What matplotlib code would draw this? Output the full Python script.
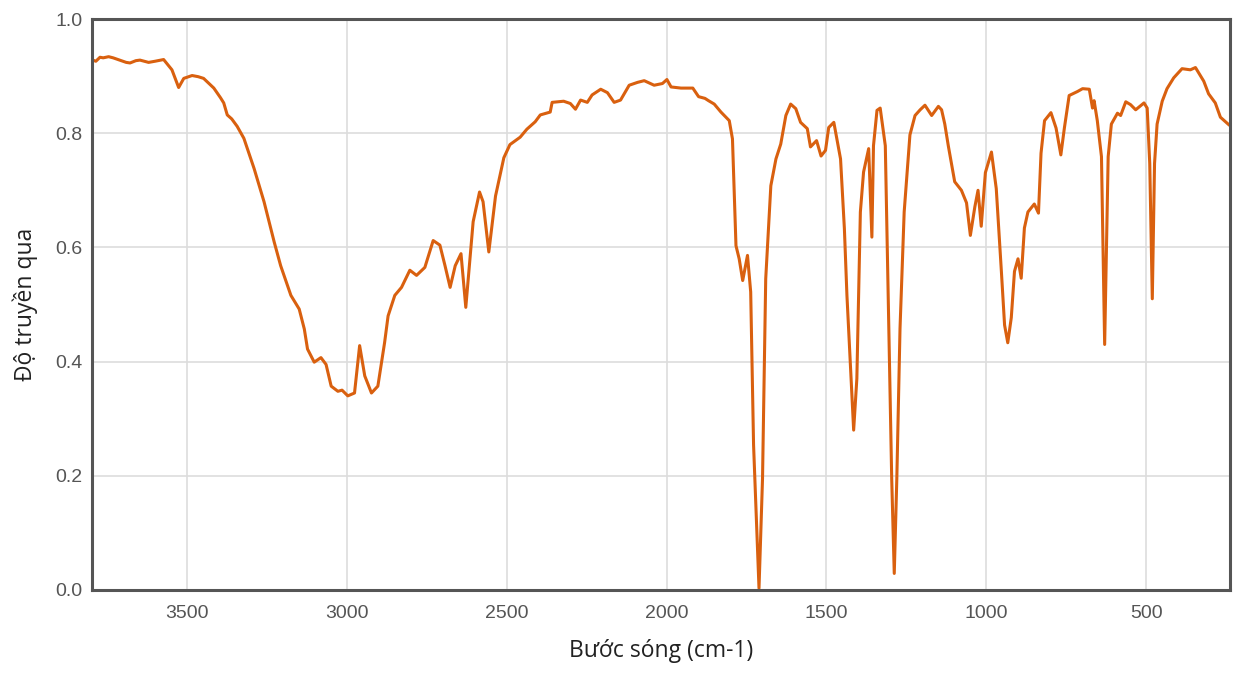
import numpy as np
import matplotlib.pyplot as plt

# Phổ IR: số sóng (cm-1) và độ truyền qua
wavenumber = [
    3799, 3785, 3772, 3762, 3745, 3731, 3710, 3690, 3678, 3660,
    3647, 3620, 3600, 3573, 3560, 3547, 3526, 3510, 3484, 3465,
    3448, 3416, 3395, 3385, 3374, 3360, 3343, 3322, 3290, 3259,
    3227, 3207, 3175, 3149, 3133, 3123, 3102, 3081, 3065, 3049,
    3028, 3015, 2997, 2976, 2960, 2944, 2923, 2903, 2882, 2871,
    2850, 2829, 2803, 2782, 2756, 2730, 2709, 2693, 2677, 2661,
    2643, 2628, 2605, 2585, 2574, 2556, 2535, 2509, 2490, 2458,
    2437, 2411, 2395, 2364, 2358, 2322, 2301, 2285, 2269, 2248,
    2233, 2206, 2185, 2164, 2144, 2117, 2091, 2070, 2039, 2013,
    1999, 1986, 1955, 1918, 1900, 1880, 1869, 1851, 1830, 1804,
    1794, 1783, 1773, 1762, 1747, 1737, 1728, 1711, 1700, 1690,
    1674, 1658, 1643, 1627, 1612, 1596, 1581, 1560, 1550, 1531,
    1517, 1503, 1493, 1477, 1456, 1444, 1436, 1415, 1405, 1394,
    1384, 1368, 1358, 1353, 1342, 1332, 1316, 1306, 1296, 1288,
    1280, 1270, 1257, 1239, 1223, 1207, 1192, 1171, 1150, 1140,
    1130, 1119, 1099, 1078, 1062, 1050, 1036, 1026, 1016, 1003,
    984, 969, 953, 943, 933, 922, 912, 901, 891, 881,
    870, 850, 837, 829, 818, 798, 782, 767, 756, 741,
    715, 699, 678, 668, 663, 653, 640, 630, 619, 609,
    590, 580, 564, 549, 533, 507, 497, 489, 481, 474,
    466, 450, 435, 414, 388, 362, 346, 320, 305, 284,
    268, 240,
]
transmittance = [
    0.929, 0.926, 0.933, 0.932, 0.934, 0.932, 0.928, 0.924, 0.923, 0.927,
    0.928, 0.924, 0.926, 0.929, 0.920, 0.911, 0.880, 0.896, 0.901, 0.899,
    0.896, 0.879, 0.862, 0.853, 0.832, 0.825, 0.812, 0.791, 0.738, 0.680,
    0.609, 0.568, 0.516, 0.492, 0.457, 0.422, 0.399, 0.407, 0.395, 0.357,
    0.348, 0.350, 0.340, 0.345, 0.428, 0.375, 0.345, 0.357, 0.433, 0.480,
    0.516, 0.530, 0.560, 0.551, 0.565, 0.612, 0.604, 0.568, 0.530, 0.568,
    0.589, 0.495, 0.645, 0.697, 0.680, 0.592, 0.690, 0.757, 0.780, 0.793,
    0.807, 0.820, 0.832, 0.837, 0.854, 0.856, 0.852, 0.842, 0.858, 0.854,
    0.867, 0.877, 0.871, 0.854, 0.858, 0.884, 0.889, 0.892, 0.884, 0.887,
    0.894, 0.881, 0.879, 0.879, 0.864, 0.861, 0.857, 0.851, 0.837, 0.822,
    0.790, 0.603, 0.580, 0.542, 0.586, 0.522, 0.254, 0.003, 0.195, 0.545,
    0.708, 0.755, 0.781, 0.831, 0.851, 0.843, 0.819, 0.808, 0.776, 0.787,
    0.760, 0.770, 0.810, 0.819, 0.755, 0.633, 0.516, 0.280, 0.370, 0.662,
    0.732, 0.773, 0.618, 0.778, 0.840, 0.844, 0.778, 0.487, 0.195, 0.029,
    0.195, 0.458, 0.662, 0.797, 0.831, 0.841, 0.849, 0.831, 0.847, 0.841,
    0.816, 0.778, 0.715, 0.700, 0.678, 0.621, 0.671, 0.700, 0.637, 0.731,
    0.767, 0.703, 0.558, 0.464, 0.433, 0.477, 0.558, 0.580, 0.546, 0.634,
    0.662, 0.676, 0.660, 0.765, 0.822, 0.836, 0.809, 0.762, 0.809, 0.866,
    0.873, 0.878, 0.877, 0.844, 0.857, 0.822, 0.759, 0.430, 0.759, 0.816,
    0.835, 0.831, 0.855, 0.850, 0.841, 0.853, 0.844, 0.747, 0.510, 0.747,
    0.816, 0.856, 0.878, 0.897, 0.913, 0.911, 0.915, 0.891, 0.869, 0.853,
    0.828, 0.814,
]

x_ticks = [3500, 3000, 2500, 2000, 1500, 1000, 500]
y_ticks = [0.0, 0.2, 0.4, 0.6, 0.8, 1.0]

plt.rcParams['font.family'] = ['Open Sans', 'DejaVu Sans']

fig = plt.figure(figsize=(12.54, 6.77), dpi=100)
ax = fig.add_axes([92 / 1254, 1 - 590 / 677, (1230 - 92) / 1254, (590 - 19) / 677])

ax.plot(wavenumber, transmittance, color='#d9600f', linewidth=2.2,
        solid_joinstyle='round', solid_capstyle='round')

ax.set_xlim(3797, 238)
ax.set_ylim(0, 1.0)
ax.set_xticks(x_ticks)
ax.set_yticks(y_ticks)
ax.set_yticklabels([f'{v:.1f}' for v in y_ticks])
ax.tick_params(length=0, labelcolor='#555555')
for lab in ax.get_xticklabels() + ax.get_yticklabels():
    lab.set_fontfamily(['Liberation Sans', 'DejaVu Sans'])
    lab.set_fontsize(14)
ax.tick_params(axis='x', pad=11)
ax.tick_params(axis='y', pad=7)
ax.grid(True, color='#dddddd', linewidth=1.2)
ax.set_axisbelow(True)

for side in ['left', 'bottom', 'top', 'right']:
    ax.spines[side].set_color('#555555')
    ax.spines[side].set_linewidth(2.2)

ax.set_xlabel('Bước sóng (cm-1)', fontsize=16.5, color='#222222', labelpad=12)
ax.set_ylabel('Độ truyền qua', fontsize=16.5, color='#222222', labelpad=12)

fig.savefig('out.png', dpi=100)
